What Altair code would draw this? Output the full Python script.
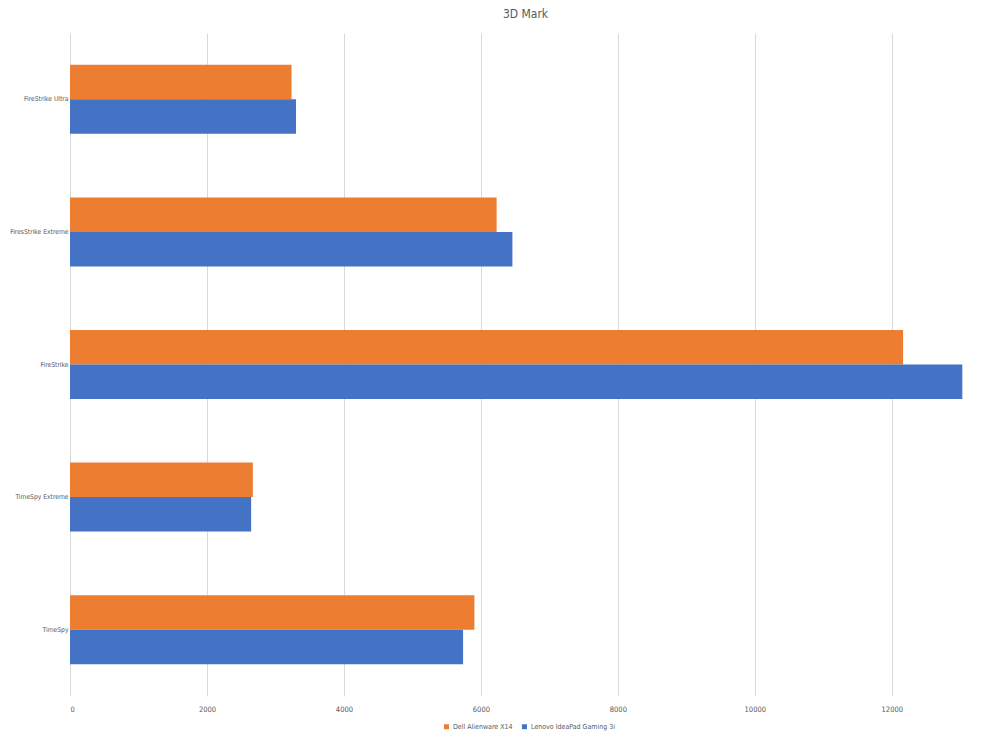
import altair as alt
import pandas as pd

categories = ["FireStrike Ultra", "FiresStrike Extreme", "FireStrike", "TimeSpy Extreme", "TimeSpy"]
series = ["Dell Alienware X14", "Lenovo IdeaPad Gaming 3i"]
dell_values = [3235, 6230, 12165, 2670, 5905]
lenovo_values = [3300, 6460, 13030, 2645, 5740]
colors = ["#ED7D31", "#4472C4"]
x_ticks = [0, 2000, 4000, 6000, 8000, 10000, 12000]

rows = []
for c, d, l in zip(categories, dell_values, lenovo_values):
    rows.append({"category": c, "series": series[0], "value": d})
    rows.append({"category": c, "series": series[1], "value": l})
df = pd.DataFrame(rows)

FONT = "DejaVu Sans Condensed, Liberation Sans Narrow, Liberation Sans"
GREY = "#595959"

chart = alt.Chart(df).mark_bar().encode(
    y=alt.Y("category:N", sort=categories,
            scale=alt.Scale(paddingInner=0.48, paddingOuter=0.24),
            axis=alt.Axis(title=None, ticks=False, domain=False, grid=False,
                          labelPadding=2, labelFontSize=6.7, labelFont=FONT,
                          labelColor=GREY, labelLimit=0)),
    yOffset=alt.YOffset("series:N", sort=series,
                        scale=alt.Scale(paddingInner=0, paddingOuter=0)),
    x=alt.X("value:Q", scale=alt.Scale(domain=[0, 13040], nice=False, zero=True),
            axis=alt.Axis(title=None, values=x_ticks, format="d", grid=True,
                          gridColor="#d9d9d9", domain=False, ticks=False,
                          labelPadding=9, labelFontSize=7.5, labelFont=FONT,
                          labelColor=GREY)),
    color=alt.Color("series:N", sort=series,
                    scale=alt.Scale(domain=series, range=colors),
                    legend=alt.Legend(title=None, orient="none", legendX=373, legendY=690,
                                      direction="horizontal", symbolType="square",
                                      symbolSize=25, labelFontSize=7, labelFont=FONT,
                                      labelColor=GREY, columnPadding=8, labelOffset=3,
                                      symbolStrokeWidth=0)),
).properties(
    width=893,
    height=663,
    title=alt.TitleParams("3D Mark", fontSize=12, font=FONT, color=GREY,
                          fontWeight="normal", anchor="middle", offset=12, dx=9),
    autosize=alt.AutoSizeParams(type="none"),
    padding={"left": 62, "top": 25, "right": 19, "bottom": 47},
).configure_view(stroke=None)

chart.save("out.html", embed_options={"renderer": "svg", "actions": False})
